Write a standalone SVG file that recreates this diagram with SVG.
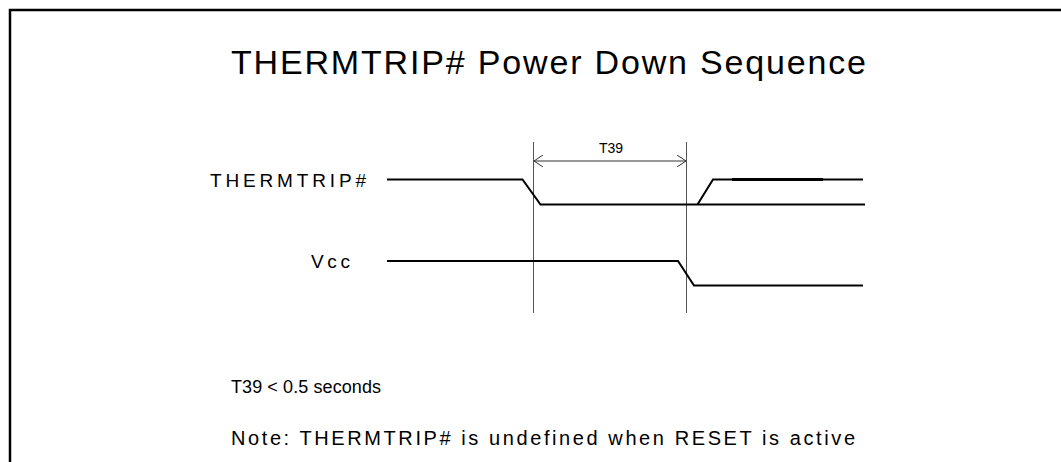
<svg xmlns="http://www.w3.org/2000/svg" width="1061" height="462" viewBox="0 0 1061 462">
<style>
text{font-family:"Liberation Sans",Arial,sans-serif;fill:#000}
.wave{fill:none;stroke:#000;stroke-width:2;stroke-linejoin:miter}
.guide{fill:none;stroke:#555;stroke-width:1}
.dim{fill:none;stroke:#333;stroke-width:1}
</style>
<defs>
<marker id="open" viewBox="0 0 10 12" refX="10" refY="6" markerWidth="10" markerHeight="12" markerUnits="userSpaceOnUse" orient="auto-start-reverse">
<path d="M1,0 L10,6 L1,12" fill="none" stroke="#333" stroke-width="1"/>
</marker>
</defs>
<rect width="1061" height="462" fill="#fff"/>
<path d="M10,470 V10 H1070" fill="none" stroke="#000" stroke-width="2.5"/>
<g id="title"><text x="231" y="74" font-size="34" textLength="635" lengthAdjust="spacing">THERMTRIP# Power Down Sequence</text></g>
<g id="label-thermtrip"><text x="210" y="187" font-size="19" textLength="156" lengthAdjust="spacing">THERMTRIP#</text></g>
<g id="label-vcc"><text x="311" y="268" font-size="19" textLength="39" lengthAdjust="spacing">Vcc</text></g>
<g id="note-t39"><text x="231" y="393" font-size="18" textLength="150" lengthAdjust="spacing">T39 &lt; 0.5 seconds</text></g>
<g id="note-reset"><text x="231" y="445" font-size="20" textLength="624" lengthAdjust="spacing">Note: THERMTRIP# is undefined when RESET is active</text></g>
<g id="connectors">
<line class="guide" x1="533.5" y1="142" x2="533.5" y2="313"/>
<line class="guide" x1="686.5" y1="142" x2="686.5" y2="313"/>
<line class="dim" x1="534" y1="161" x2="686" y2="161" marker-start="url(#open)" marker-end="url(#open)"/>
<text x="611" y="153" font-size="14" text-anchor="middle">T39</text>
<polyline class="wave" points="387,179.5 522.5,179.5 540.5,204.5 865,204.5"/>
<polyline class="wave" points="697.5,204.5 713,179.5 863,179.5"/>
<line x1="732" y1="179.5" x2="823" y2="179.5" stroke="#000" stroke-width="3"/>
<polyline class="wave" points="387,261 678,261 694,285.5 863,285.5"/>
</g>
</svg>
